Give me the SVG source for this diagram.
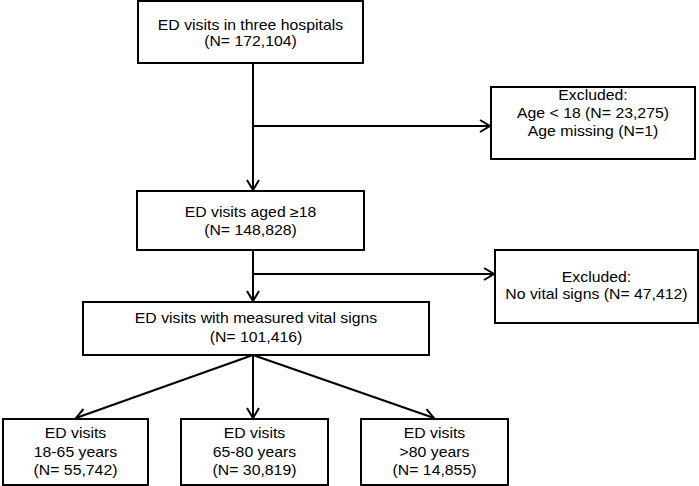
<svg xmlns="http://www.w3.org/2000/svg" width="699" height="486" viewBox="0 0 699 486">
<defs>
<marker id="arr" markerUnits="userSpaceOnUse" markerWidth="14" markerHeight="16" refX="11" refY="7" orient="auto" overflow="visible">
<path d="M1,1 L11,7 L1,13" fill="none" stroke="#000" stroke-width="2"/>
</marker>
<style>
rect{fill:#fff;stroke:#000;stroke-width:2}
text{font-family:"Liberation Sans",Arial,sans-serif;font-size:14px;fill:#000;text-anchor:middle}
.c line{stroke:#000;stroke-width:2}
</style>
</defs>
<rect x="0" y="0" width="699" height="486" style="fill:#fff;stroke:none"/>
<g class="c" id="connectors">
<line x1="253" y1="63" x2="253" y2="190" marker-end="url(#arr)"/>
<line x1="253" y1="126" x2="490" y2="126" marker-end="url(#arr)"/>
<line x1="253" y1="250" x2="253" y2="301" marker-end="url(#arr)"/>
<line x1="253" y1="274" x2="494" y2="274" marker-end="url(#arr)"/>
<line x1="253" y1="355" x2="76" y2="418" marker-end="url(#arr)"/>
<line x1="253" y1="355" x2="253" y2="418" marker-end="url(#arr)"/>
<line x1="253" y1="355" x2="434" y2="418" marker-end="url(#arr)"/>
</g>
<g id="n1"><rect x="138" y="1" width="225" height="62"/><text transform="translate(250.5,30) scale(1.13,1)">ED visits in three hospitals</text><text transform="translate(250.5,46) scale(1.13,1)">(N= 172,104)</text></g>
<g id="ex1"><rect x="491" y="87" width="204" height="72"/><text transform="translate(593,100) scale(1.13,1)">Excluded:</text><text transform="translate(593,118) scale(1.13,1)">Age &lt; 18 (N= 23,275)</text><text transform="translate(593,136) scale(1.13,1)">Age missing (N=1)</text></g>
<g id="n2"><rect x="137" y="191" width="227" height="59"/><text transform="translate(250.5,217) scale(1.13,1)">ED visits aged ≥18</text><text transform="translate(250.5,235) scale(1.13,1)">(N= 148,828)</text></g>
<g id="ex2"><rect x="495" y="250" width="203" height="73"/><text transform="translate(596.5,282) scale(1.13,1)">Excluded:</text><text transform="translate(596.5,299) scale(1.13,1)">No vital signs (N= 47,412)</text></g>
<g id="n3"><rect x="83" y="302" width="346" height="53"/><text transform="translate(256,323) scale(1.13,1)">ED visits with measured vital signs</text><text transform="translate(256,342) scale(1.13,1)">(N= 101,416)</text></g>
<g id="n4"><rect x="3" y="419" width="145" height="66"/><text transform="translate(75.5,438) scale(1.13,1)">ED visits</text><text transform="translate(75.5,457) scale(1.13,1)">18-65 years</text><text transform="translate(75.5,475) scale(1.13,1)">(N= 55,742)</text></g>
<g id="n5"><rect x="181" y="419" width="147" height="66"/><text transform="translate(254.5,438) scale(1.13,1)">ED visits</text><text transform="translate(254.5,457) scale(1.13,1)">65-80 years</text><text transform="translate(254.5,475) scale(1.13,1)">(N= 30,819)</text></g>
<g id="n6"><rect x="361" y="419" width="147" height="66"/><text transform="translate(434.5,438) scale(1.13,1)">ED visits</text><text transform="translate(434.5,457) scale(1.13,1)">&gt;80 years</text><text transform="translate(434.5,475) scale(1.13,1)">(N= 14,855)</text></g>
</svg>
